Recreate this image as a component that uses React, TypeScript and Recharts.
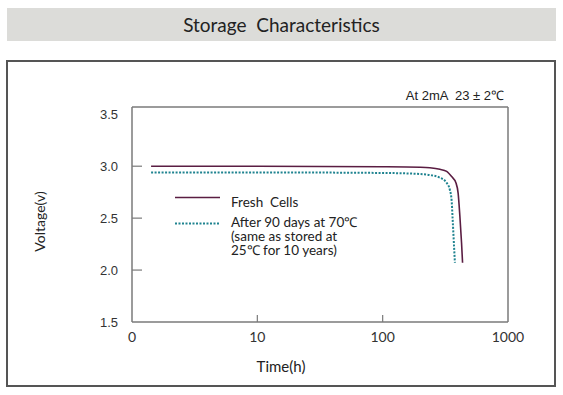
import { LineChart, Line, XAxis, YAxis, Legend } from 'recharts';

// hours -> volts (log time axis)
const freshTimes = [1.42, 10, 100, 200, 238, 286, 324, 355, 384, 400, 413, 426, 434];
const freshVolts = [3.0, 3.0, 2.995, 2.99, 2.985, 2.97, 2.95, 2.9, 2.84, 2.74, 2.52, 2.26, 2.07];
const agedTimes = [1.42, 10, 100, 200, 238, 286, 324, 344, 355, 361, 370, 377];
const agedVolts = [2.94, 2.94, 2.935, 2.925, 2.915, 2.89, 2.84, 2.77, 2.67, 2.51, 2.26, 2.07];

const timeTicks = [1, 10, 100, 1000];
const voltTicks = [1.5, 2.0, 2.5, 3.0, 3.5];

const freshName = 'Fresh  Cells';
const agedName = ['After 90 days at 70℃', '(same as stored at', '25℃ for 10 years)'].join('\n');
const seriesNames = [freshName, agedName];

const freshData = freshTimes.map((t, i) => ({ t, v: freshVolts[i] }));
const agedData = agedTimes.map((t, i) => ({ t, v: agedVolts[i] }));

const FONT = 'Lato, "Open Sans", sans-serif';
const FRAME = '#7a7a7a';
const X_DOMAIN = [1, 1000];
const Y_DOMAIN = [1.5, 3.57];

const VoltTick = ({ x, y, payload }: any) => {
    const inner = payload.value > 1.5 && payload.value < 3.5;
    return (
        <g>
            <text x={x} y={y} dy="0.35em" textAnchor="end" fill="#333" fontSize={13} fontFamily="Liberation Sans">
                {payload.value.toFixed(1)}
            </text>
            {inner && <line x1={x + 14} x2={x + 24} y1={y} y2={y} stroke={FRAME} strokeWidth={1.2} />}
        </g>
    );
};

const TimeTick = ({ x, y, payload }: any) => {
    const inner = payload.value > 1 && payload.value < 1000;
    return (
        <g>
            <text x={x} y={y} dy="0.71em" textAnchor="middle" fill="#333" fontSize={14} fontFamily={FONT}>
                {payload.value === 1 ? '0' : payload.value}
            </text>
            {inner && <line x1={x} x2={x} y1={y - 10} y2={y - 17} stroke={FRAME} strokeWidth={1.2} />}
        </g>
    );
};

const iconDy = [1.5, 7.5];

const renderLegend = ({ payload }: any) => (
    <div style={{ fontFamily: FONT, fontSize: 13.5, color: '#222' }}>
        {(payload || []).map((entry: any, i: number) => (
            <div key={i} style={{ display: 'flex', alignItems: 'flex-start', marginBottom: 6 }}>
                <svg width={56} height={14} style={{ flex: 'none' }}>
                    <line
                        x1={0}
                        x2={45}
                        y1={iconDy[i] ?? 7}
                        y2={iconDy[i] ?? 7}
                        stroke={entry.color}
                        strokeWidth={entry.payload?.strokeWidth ?? 1.5}
                        strokeDasharray={entry.payload?.strokeDasharray}
                    />
                </svg>
                <div style={{ whiteSpace: 'pre', lineHeight: '13.8px' }}>{entry.value}</div>
            </div>
        ))}
    </div>
);

export default function App() {
    return (
        <div style={{ position: 'absolute', left: 0, top: 0, width: 563, height: 395, background: '#fff' }}>
            <div
                style={{
                    position: 'absolute',
                    left: 7,
                    top: 8,
                    width: 549,
                    height: 33,
                    background: '#dcdcd9',
                    textAlign: 'center',
                    lineHeight: '33px',
                    fontFamily: FONT,
                    fontSize: 19,
                    color: '#222',
                    whiteSpace: 'pre',
                }}
            >
                {'Storage  Characteristics'}
            </div>
            <div
                style={{
                    position: 'absolute',
                    left: 6,
                    top: 60,
                    width: 546,
                    height: 323,
                    border: '2px solid #555',
                }}
            />
            <div
                style={{
                    position: 'absolute',
                    right: 563 - 504,
                    top: 86,
                    fontFamily: 'Liberation Sans',
                    fontSize: 13,
                    color: '#222',
                    whiteSpace: 'pre',
                }}
            >
                {'At 2mA  23 ± 2℃'}
            </div>
            <div style={{ position: 'absolute', left: 0, top: 0 }}>
                <LineChart width={563} height={395} margin={{ top: 106, right: 54, bottom: 18, left: 20 }}>
                    <XAxis
                        dataKey="t"
                        type="number"
                        scale="log"
                        domain={X_DOMAIN}
                        ticks={timeTicks}
                        allowDataOverflow
                        height={55}
                        tickSize={0}
                        tickMargin={10}
                        tick={<TimeTick />}
                        axisLine={{ stroke: FRAME, strokeWidth: 1.5 }}
                        label={{
                            value: 'Time(h)',
                            position: 'insideBottom',
                            offset: 5,
                            dx: -39,
                            fill: '#222',
                            fontSize: 15,
                            fontFamily: FONT,
                        }}
                    />
                    <XAxis
                        xAxisId="top"
                        orientation="top"
                        dataKey="t"
                        type="number"
                        scale="log"
                        domain={X_DOMAIN}
                        allowDataOverflow
                        height={1}
                        tick={false}
                        tickLine={false}
                        axisLine={{ stroke: FRAME, strokeWidth: 1.5 }}
                    />
                    <YAxis
                        type="number"
                        domain={Y_DOMAIN}
                        ticks={voltTicks}
                        allowDataOverflow
                        width={112}
                        tickSize={0}
                        tickMargin={14}
                        tick={<VoltTick />}
                        axisLine={{ stroke: FRAME, strokeWidth: 1.5 }}
                        label={{
                            value: 'Voltage(v)',
                            angle: -90,
                            position: 'insideLeft',
                            offset: 20,
                            dy: 7,
                            fill: '#222',
                            fontSize: 14,
                            fontFamily: FONT,
                            style: { textAnchor: 'middle' },
                        }}
                    />
                    <YAxis
                        yAxisId="right"
                        orientation="right"
                        type="number"
                        domain={Y_DOMAIN}
                        allowDataOverflow
                        width={1}
                        tick={false}
                        tickLine={false}
                        axisLine={{ stroke: FRAME, strokeWidth: 1.5 }}
                    />
                    <Line
                        data={freshData}
                        dataKey="v"
                        name={freshName}
                        type="monotone"
                        stroke="#5a1d42"
                        strokeWidth={1.6}
                        dot={false}
                        isAnimationActive={false}
                    />
                    <Line
                        data={agedData}
                        dataKey="v"
                        name={agedName}
                        type="monotone"
                        stroke="#1f8390"
                        strokeWidth={2}
                        strokeDasharray="2 1.5"
                        dot={false}
                        isAnimationActive={false}
                    />
                    <Legend
                        layout="vertical"
                        align="center"
                        verticalAlign="middle"
                        content={renderLegend}
                        itemSorter={(item: any) => seriesNames.indexOf(item.value)}
                        wrapperStyle={{ left: 175, top: 196, width: 'auto' }}
                    />
                </LineChart>
            </div>
        </div>
    );
}
